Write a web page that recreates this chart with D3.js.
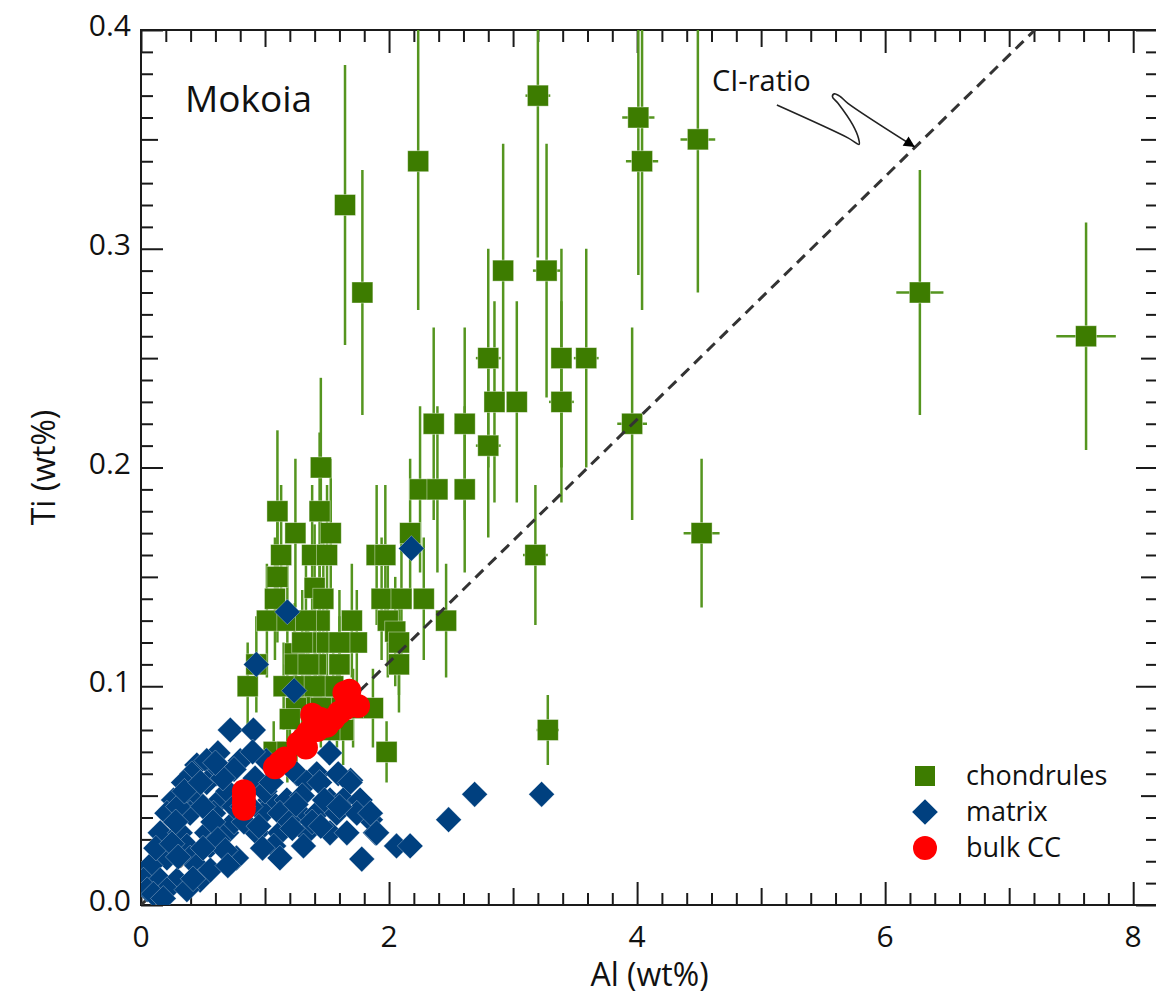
<!DOCTYPE html>
<html>
<head>
<meta charset="utf-8">
<script src="https://cdn.jsdelivr.net/npm/d3@7"></script>
<style>
  body { margin: 0; background: #fff; }
  text { font-family: "Open Sans", sans-serif; fill: #111; }
</style>
</head>
<body>
<svg width="1156" height="994"></svg>
<script>
// Mokoia - Ti vs Al (wt%)

// chondrules: Al, Ti, error on Ti, error on Al
var chonAl =    [1.645,1.785,2.235,3.20,4.01,4.04,4.49,6.28,7.62,2.92,3.27,2.80,3.39,3.59,2.85,3.03,3.39,2.36,2.61,3.96,2.80,4.52,3.18,3.28,2.46,2.28,2.61,2.25,2.39,1.45,1.10,1.44,1.245,1.53,2.17,1.13,1.38,1.50,1.90,1.97,1.10,1.40,1.47,1.94,2.10,1.015,1.18,1.44,1.70,1.99,2.05,0.86,1.24,1.24,1.44,1.60,1.41,1.74,2.08,2.08,0.93,1.87,1.63,1.98,1.07,1.18,1.36,1.47,1.71,1.52,1.30,1.55,1.08,
                 1.30,1.35,1.50,1.40,1.25,1.58,1.15,1.45,1.60,1.20,1.33];
var chonTi =    [0.32,0.28,0.34,0.37,0.36,0.34,0.35,0.28,0.26,0.29,0.29,0.25,0.25,0.25,0.23,0.23,0.23,0.22,0.22,0.22,0.21,0.17,0.16,0.08,0.13,0.14,0.19,0.19,0.19,0.20,0.18,0.18,0.17,0.17,0.17,0.16,0.16,0.16,0.16,0.16,0.15,0.145,0.14,0.14,0.14,0.13,0.13,0.13,0.13,0.13,0.125,0.10,0.115,0.11,0.12,0.11,0.11,0.12,0.12,0.11,0.11,0.09,0.08,0.07,0.07,0.07,0.095,0.095,0.09,0.08,0.10,0.10,0.14,
                 0.12,0.11,0.12,0.10,0.09,0.09,0.10,0.09,0.12,0.085,0.13];
var chonTiErr = [0.064,0.056,0.068,0.074,0.072,0.068,0.07,0.056,0.052,0.058,0.058,0.05,0.05,0.05,0.046,0.046,0.046,0.044,0.044,0.044,0.042,0.034,0.032,0.016,0.026,0.028,0.038,0.038,0.038,0.041,0.037,0.036,0.034,0.034,0.034,0.032,0.032,0.032,0.032,0.032,0.03,0.029,0.028,0.028,0.028,0.026,0.026,0.026,0.026,0.026,0.025,0.02,0.023,0.022,0.024,0.022,0.022,0.024,0.024,0.022,0.022,0.018,0.016,0.014,0.014,0.014,0.019,0.019,0.018,0.016,0.02,0.02,0.028,
                 0.024,0.022,0.024,0.02,0.018,0.018,0.02,0.018,0.024,0.017,0.026];
var chonAlErr = [0,0,0,0.10,0.13,0.13,0.14,0.19,0.24,0,0.11,0.10,0.08,0.10,0,0.08,0.10,0,0.08,0.12,0.10,0.145,0.10,0.09,0,0,0,0,0,0,0,0,0,0,0.05,0,0,0,0,0,0,0,0,0,0,0,0,0,0,0,0,0,0,0,0,0,0,0,0,0,0,0,0,0,0,0,0,0,0,0,0,0,0,
                 0,0,0,0,0,0,0,0,0,0,0];

// matrix
var matAl = [2.18,1.18,0.93,1.235,0.72,0.906,2.69,3.23,2.48,2.06,2.17,1.78,1.89,1.85,1.69,1.52,
  0.62,0.45,0.53,0.80,1.01,0.41,0.61,1.256,1.417,1.59,0.343,0.53,1.04,1.336,1.44,1.686,
  0.262,0.45,0.638,1.04,1.176,1.524,1.63,1.767,0.209,0.396,0.585,0.987,1.12,1.28,1.417,1.578,1.74,1.85,
  0.155,0.316,0.53,0.69,0.934,1.12,1.336,1.524,1.66,1.90,0.37,0.558,1.07,1.31,0.209,0.396,0.77,1.12,
  0.074,0.45,0.02,0.155,0.29,0.477,0.05,0.209,0.37,0.70,0.85,0.75,0.83,0.30,0.50,0.75,0.88,0.75,0.95,1.20,
  0.35,0.48,0.66,0.92,0.28,0.58,0.82,1.00,0.12,0.25,0.62,0.68,0.98,1.22,1.38,0.10,0.30,0.50,0.42,0.56,0.70,1.30,1.48,0.18,0.60,0.90,
  1.45,1.60,1.25,1.05];
var matTi = [0.163,0.134,0.11,0.098,0.08,0.08,0.0506,0.0506,0.039,0.027,0.027,0.021,0.033,0.039,0.057,0.0695,
  0.0695,0.064,0.066,0.066,0.066,0.06,0.06,0.06,0.06,0.06,0.056,0.056,0.056,0.056,0.056,0.056,
  0.048,0.048,0.048,0.048,0.048,0.048,0.048,0.048,0.042,0.042,0.042,0.042,0.042,0.042,0.042,0.042,0.042,0.042,
  0.033,0.033,0.033,0.033,0.033,0.033,0.033,0.033,0.033,0.033,0.027,0.027,0.027,0.027,0.0215,0.0215,0.0215,0.0215,
  0.018,0.018,0.0114,0.0114,0.0114,0.0114,0.007,0.007,0.007,0.052,0.052,0.038,0.038,0.045,0.045,0.045,0.045,0.062,0.036,0.038,
  0.052,0.056,0.058,0.058,0.038,0.038,0.045,0.052,0.026,0.028,0.030,0.025,0.026,0.035,0.038,0.005,0.022,0.026,0.012,0.016,0.018,0.050,0.048,0.003,0.065,0.070,
  0.036,0.045,0.046,0.056];

// bulk CC
var bulkAl = [0.83,0.83,0.83,0.83,1.08,1.12,1.16,1.27,1.31,1.35,1.40,1.38,1.45,1.50,1.55,1.60,1.65,1.70,1.75,1.68,1.64,1.42,1.33];
var bulkTi = [0.044,0.047,0.050,0.052,0.063,0.065,0.067,0.074,0.076,0.079,0.083,0.087,0.085,0.082,0.085,0.088,0.090,0.092,0.091,0.098,0.097,0.080,0.072];

// CI ratio line (Ti/Al) and its label arrow (data coords)
var ciRatio = 0.0555;
var ciArrowAl = [5.127,5.70,5.79,5.785,5.74,5.62,5.575,5.59,5.64,5.70,6.24];
var ciArrowTi = [0.3657,0.3507,0.3477,0.3505,0.3565,0.3665,0.3695,0.3708,0.3695,0.3665,0.3465];

var xTickLabels = [0,2,4,6,8];
var yTickLabels = [0.0,0.1,0.2,0.3,0.4];
var legendNames = ["chondrules","matrix","bulk CC"];

var svg = d3.select("svg"),
    pLeft = 141, pTop = 30, pBottom = 905, pRight = 1158;

var x = d3.scaleLinear().domain([0, 8.2]).range([pLeft, pRight]);
var y = d3.scaleLinear().domain([0, 0.4]).range([pBottom, pTop]);

var green = "#3d7c00", greenBar = "#55951f", blue = "#00407f", red = "#ff0000";

var defs = svg.append("defs");
defs.append("clipPath").attr("id","clip")
  .append("rect").attr("x", pLeft).attr("y", pTop).attr("width", pRight-pLeft).attr("height", pBottom-pTop);

defs.append("marker")
  .attr("id","arrow").attr("viewBox","0 -5 10 10")
  .attr("refX", 10).attr("refY", 0)
  .attr("markerUnits","userSpaceOnUse")
  .attr("markerWidth", 16).attr("markerHeight", 11)
  .attr("orient","auto")
  .append("path").attr("d","M0,-5L10,0L0,5Z").attr("fill","#000");

// ticks: minor/medium/major, all inward
var xMinor = d3.range(0, 8.21, 0.2).filter(function(v){ return Math.abs(v - Math.round(v)) > 0.01; });
var xMid = [1,3,5,7], xMajor = xTickLabels;
var yMinor = d3.range(0, 0.401, 0.01).filter(function(v){ return Math.abs(v*20 - Math.round(v*20)) > 0.01; });
var yMid = [0.05,0.15,0.25,0.35], yMajor = yTickLabels;

function drawTicks(axisFn, scale, vals, len, tr) {
  svg.append("g").attr("transform", tr)
    .call(axisFn(scale).tickValues(vals).tickSize(-len).tickSizeOuter(0).tickFormat(""))
    .call(function(g){ g.select(".domain").remove(); g.selectAll("line").attr("stroke","#1a1a1a").attr("stroke-width",2); });
}
[[xMinor,12],[xMid,17],[xMajor,23]].forEach(function(t){
  drawTicks(d3.axisBottom, x, t[0], t[1], "translate(0,"+pBottom+")");
  drawTicks(d3.axisTop, x, t[0], t[1], "translate(0,"+pTop+")");
});
[[yMinor,12],[yMid,17],[yMajor,22]].forEach(function(t){
  drawTicks(d3.axisLeft, y, t[0], t[1], "translate("+pLeft+",0)");
  drawTicks(d3.axisRight, y, t[0], t[1], "translate("+pRight+",0)");
});

svg.append("rect").attr("x", pLeft).attr("y", pTop).attr("width", pRight-pLeft).attr("height", pBottom-pTop)
  .attr("fill","none").attr("stroke","#1a1a1a").attr("stroke-width",2);

// tick labels
svg.append("g").selectAll("text").data(xTickLabels).enter().append("text")
  .attr("x", function(d){ return x(d); }).attr("y", pBottom + 42)
  .attr("text-anchor","middle").attr("font-size", 30).text(function(d){ return d; });
svg.append("g").selectAll("text").data(yTickLabels).enter().append("text")
  .attr("x", pLeft - 10).attr("y", function(d){ return y(d) + 6; })
  .attr("text-anchor","end").attr("font-size", 30).text(d3.format(".1f"));

// axis titles
svg.append("text").attr("x", x(4.1)).attr("y", 986).attr("text-anchor","middle")
  .attr("font-size", 32).text("Al (wt%)");
svg.append("text").attr("transform","translate(55," + y(0.2) + ") rotate(-90)")
  .attr("text-anchor","middle").attr("font-size", 32).text("Ti (wt%)");

var plot = svg.append("g").attr("clip-path","url(#clip)");

var chon = chonAl.map(function(a,i){ return {al:a, ti:chonTi[i], et:chonTiErr[i], ea:chonAlErr[i]}; });
var mat = matAl.map(function(a,i){ return {al:a, ti:matTi[i]}; });
var bulk = bulkAl.map(function(a,i){ return {al:a, ti:bulkTi[i]}; });

// error bars
var bars = plot.append("g").attr("stroke", greenBar).attr("stroke-width", 2.5);
bars.selectAll(".ev").data(chon).enter().append("line")
  .attr("x1", function(d){ return x(d.al); }).attr("x2", function(d){ return x(d.al); })
  .attr("y1", function(d){ return y(d.ti + d.et); }).attr("y2", function(d){ return y(d.ti - d.et); });
bars.selectAll(".eh").data(chon.filter(function(d){ return d.ea > 0; })).enter().append("line")
  .attr("x1", function(d){ return x(d.al - d.ea); }).attr("x2", function(d){ return x(d.al + d.ea); })
  .attr("y1", function(d){ return y(d.ti); }).attr("y2", function(d){ return y(d.ti); });

var sq = 21;
plot.append("g").selectAll("rect").data(chon).enter().append("rect")
  .attr("x", function(d){ return x(d.al) - sq/2; }).attr("y", function(d){ return y(d.ti) - sq/2; })
  .attr("width", sq).attr("height", sq)
  .attr("fill", green).attr("stroke","#fff").attr("stroke-opacity",0.5).attr("stroke-width",0.8);

// CI ratio dashed line
plot.append("line")
  .attr("x1", x(0)).attr("y1", y(0)).attr("x2", x(0.4/ciRatio)).attr("y2", y(0.4))
  .attr("stroke","#333").attr("stroke-width",3).attr("stroke-dasharray","11,7");

var diamond = d3.symbol().type(d3.symbolSquare).size(330);
plot.append("g").selectAll("path").data(mat).enter().append("path")
  .attr("d", diamond)
  .attr("transform", function(d){ return "translate(" + x(d.al) + "," + y(d.ti) + ") rotate(45)"; })
  .attr("fill", blue).attr("stroke","#fff").attr("stroke-opacity",0.35).attr("stroke-width",0.8);

plot.append("g").selectAll("circle").data(bulk).enter().append("circle")
  .attr("cx", function(d){ return x(d.al); }).attr("cy", function(d){ return y(d.ti); })
  .attr("r", 12).attr("fill", red);

// labels
svg.append("text").attr("x", 185).attr("y", 112).attr("font-size", 37).text("Mokoia");
svg.append("text").attr("x", 712).attr("y", 91).attr("font-size", 29).text("CI-ratio");

var arrowPts = ciArrowAl.map(function(a,i){ return [x(a), y(ciArrowTi[i])]; });
svg.append("path")
  .attr("d", d3.line().curve(d3.curveCatmullRom.alpha(0.5))(arrowPts))
  .attr("fill","none").attr("stroke","#222").attr("stroke-width",1.6)
  .attr("marker-end","url(#arrow)");

// legend
var legend = svg.append("g").selectAll("g").data(legendNames).enter().append("g")
  .attr("transform", function(d,i){ return "translate(925," + (776 + i*36) + ")"; });
legend.append("path")
  .attr("d", function(d,i){
    if (i == 0) return d3.symbol().type(d3.symbolSquare).size(400)();
    if (i == 1) return d3.symbol().type(d3.symbolSquare).size(330)();
    return d3.symbol().type(d3.symbolCircle).size(Math.PI*144)();
  })
  .attr("transform", function(d,i){ return i == 1 ? "rotate(45)" : null; })
  .attr("fill", function(d,i){ return [green, blue, red][i]; });
legend.append("text").attr("x", 41).attr("y", 9).attr("font-size", 27).text(function(d){ return d; });
</script>
</body>
</html>
